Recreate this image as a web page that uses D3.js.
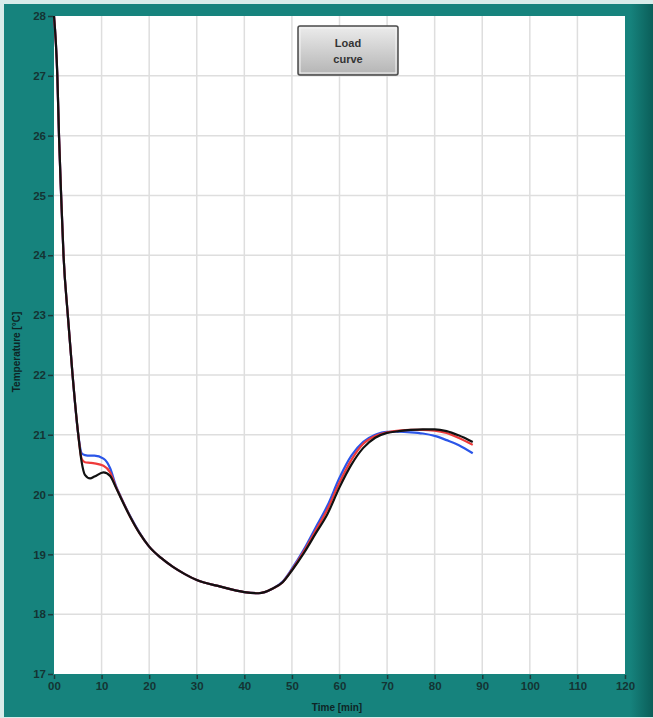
<!DOCTYPE html>
<html>
<head>
<meta charset="utf-8">
<script src="https://cdn.jsdelivr.net/npm/d3@7"></script>
<style>
  body { margin: 0; background: #fff; }
  svg text { font-family: "Liberation Sans", Arial, sans-serif; }
</style>
</head>
<body>
<div id="chart"></div>
<script>
// time [min]
var times = [0, 0.7, 1.05, 1.5, 2, 2.9, 3.9, 5.1, 5.8, 6.5, 7.6, 8.5, 10.4, 11.8, 13, 14, 16, 18, 20, 22.5,
  25, 27.5, 30, 35, 40, 43, 46, 48, 50, 52.5, 55, 57.5, 60, 62.5, 65, 67.5, 70, 72.5, 75, 77.5, 80, 82.5, 85, 88];

var blueTemps = [28, 27, 26, 25, 24, 23, 22, 21, 20.69, 20.66, 20.65, 20.65, 20.6, 20.44, 20.15, 19.97, 19.64, 19.36, 19.13, 18.94,
  18.79, 18.67, 18.57, 18.46, 18.37, 18.35, 18.43, 18.54, 18.76, 19.08, 19.45, 19.82, 20.28, 20.65, 20.88, 21.0, 21.05, 21.05, 21.04, 21.02, 20.98, 20.91, 20.83, 20.69];

var redTemps = [28, 27, 26, 25, 24, 23, 22, 21, 20.6, 20.54, 20.53, 20.52, 20.48, 20.37, 20.13, 19.96, 19.63, 19.35, 19.13, 18.94,
  18.79, 18.67, 18.57, 18.46, 18.37, 18.35, 18.43, 18.53, 18.74, 19.05, 19.4, 19.76, 20.2, 20.58, 20.85, 20.98, 21.04, 21.07, 21.08, 21.08, 21.07, 21.03, 20.95, 20.83];

var blackTemps = [28, 27, 26, 25, 24, 23, 22, 21, 20.55, 20.33, 20.27, 20.3, 20.37, 20.31, 20.12, 19.95, 19.63, 19.35, 19.13, 18.94,
  18.79, 18.67, 18.57, 18.46, 18.37, 18.35, 18.43, 18.53, 18.73, 19.02, 19.35, 19.68, 20.12, 20.5, 20.78, 20.95, 21.03, 21.06, 21.08, 21.09, 21.09, 21.06, 20.99, 20.88];

var xTicks = [0, 10, 20, 30, 40, 50, 60, 70, 80, 90, 100, 110, 120];
var yTicks = [17, 18, 19, 20, 21, 22, 23, 24, 25, 26, 27, 28];

var W = 653, H = 718;
var plotLeft = 54, plotRight = 625, plotTop = 16, plotBottom = 674;

var svg = d3.select("#chart")
      .append("svg")
      .attr("width", W)
      .attr("height", H);

var defs = svg.append("defs");
var shade = defs.append("linearGradient").attr("id", "shade");
shade.append("stop").attr("offset", "0%").attr("stop-color", "#16837d");
shade.append("stop").attr("offset", "100%").attr("stop-color", "#0b5e59");
var btn = defs.append("linearGradient").attr("id", "btn")
      .attr("x1", 0).attr("y1", 0).attr("x2", 0).attr("y2", 1);
btn.append("stop").attr("offset", "0%").attr("stop-color", "#ececec");
btn.append("stop").attr("offset", "100%").attr("stop-color", "#b4b4b4");

// panel frame
svg.append("rect").attr("x", 0).attr("y", 0).attr("width", W).attr("height", H).attr("fill", "#d8ecea");
svg.append("rect").attr("x", 4).attr("y", 4).attr("width", W - 6).attr("height", H - 5).attr("fill", "#16837d");
svg.append("rect").attr("x", 630).attr("y", 4).attr("width", 23).attr("height", H - 5).attr("fill", "url(#shade)");

var x = d3.scaleLinear().domain([0, 120]).range([plotLeft, plotRight]);
var y = d3.scaleLinear().domain([17, 28]).range([plotBottom, plotTop]);

// plot area
svg.append("rect")
  .attr("x", plotLeft).attr("y", plotTop)
  .attr("width", plotRight - plotLeft).attr("height", plotBottom - plotTop)
  .attr("fill", "#fff");

// grid
svg.append("g").selectAll("line")
  .data(xTicks.slice(1, -1))
  .enter().append("line")
  .attr("x1", function(d) { return x(d); }).attr("x2", function(d) { return x(d); })
  .attr("y1", plotTop).attr("y2", plotBottom)
  .style("stroke", "#dedede").style("stroke-width", 1.5);

svg.append("g").selectAll("line")
  .data(yTicks.slice(1, -1))
  .enter().append("line")
  .attr("y1", function(d) { return y(d); }).attr("y2", function(d) { return y(d); })
  .attr("x1", plotLeft).attr("x2", plotRight)
  .style("stroke", "#dedede").style("stroke-width", 1.5);

// axes
var xAxis = svg.append("g")
  .attr("transform", "translate(0," + (plotBottom + 1) + ")")
  .call(d3.axisBottom(x).tickValues(xTicks).tickSize(4).tickPadding(3)
    .tickFormat(function(d) { return d === 0 ? "00" : d; }));
var yAxis = svg.append("g")
  .attr("transform", "translate(" + (plotLeft - 1) + ",0)")
  .call(d3.axisLeft(y).tickValues(yTicks).tickSize(5).tickPadding(2));

[xAxis, yAxis].forEach(function(g) {
  g.select(".domain").remove();
  g.selectAll(".tick line").style("stroke", "#1d3b3b").style("stroke-width", 1.5);
  g.selectAll(".tick text")
    .style("fill", "#143433")
    .style("font-size", "11.5px")
    .style("font-weight", "bold")
    .style("font-family", "\"Liberation Sans\", Arial, sans-serif");
});

// axis titles
svg.append("text")
  .attr("x", 337).attr("y", 711)
  .attr("text-anchor", "middle")
  .style("font-size", "10px").style("font-weight", "bold").style("fill", "#0e2525")
  .text("Time [min]");

svg.append("text")
  .attr("transform", "translate(20,352) rotate(-90)")
  .attr("text-anchor", "middle")
  .style("font-size", "10px").style("font-weight", "bold").style("fill", "#0e2525")
  .text("Temperature [°C]");

// curves
var line = d3.line()
  .x(function(d) { return x(d[0]); })
  .y(function(d) { return y(d[1]); })
  .curve(d3.curveMonotoneX);

var series = [
  { temps: blueTemps, color: "#2a55e8" },
  { temps: redTemps, color: "#ee3a3a" },
  { temps: blackTemps, color: "#111" }
];

svg.append("g").selectAll("path")
  .data(series)
  .enter().append("path")
  .attr("d", function(s) { return line(times.map(function(t, i) { return [t, s.temps[i]]; })); })
  .style("fill", "none")
  .style("stroke", function(s) { return s.color; })
  .style("stroke-width", 2.2);

// button
var b = svg.append("g");
b.append("rect")
  .attr("x", 298).attr("y", 26).attr("width", 100).attr("height", 49)
  .attr("rx", 2)
  .attr("fill", "url(#btn)")
  .style("stroke", "#4a4a4a").style("stroke-width", 1.5);
b.append("rect")
  .attr("x", 300).attr("y", 28).attr("width", 96).attr("height", 45)
  .attr("fill", "none")
  .style("stroke", "#f4f4f4").style("stroke-width", 1);
b.append("text").attr("x", 348).attr("y", 47).attr("text-anchor", "middle")
  .style("font-size", "11px").style("font-weight", "bold").style("fill", "#333")
  .text("Load");
b.append("text").attr("x", 348).attr("y", 63).attr("text-anchor", "middle")
  .style("font-size", "11px").style("font-weight", "bold").style("fill", "#333")
  .text("curve");
</script>
</body>
</html>
